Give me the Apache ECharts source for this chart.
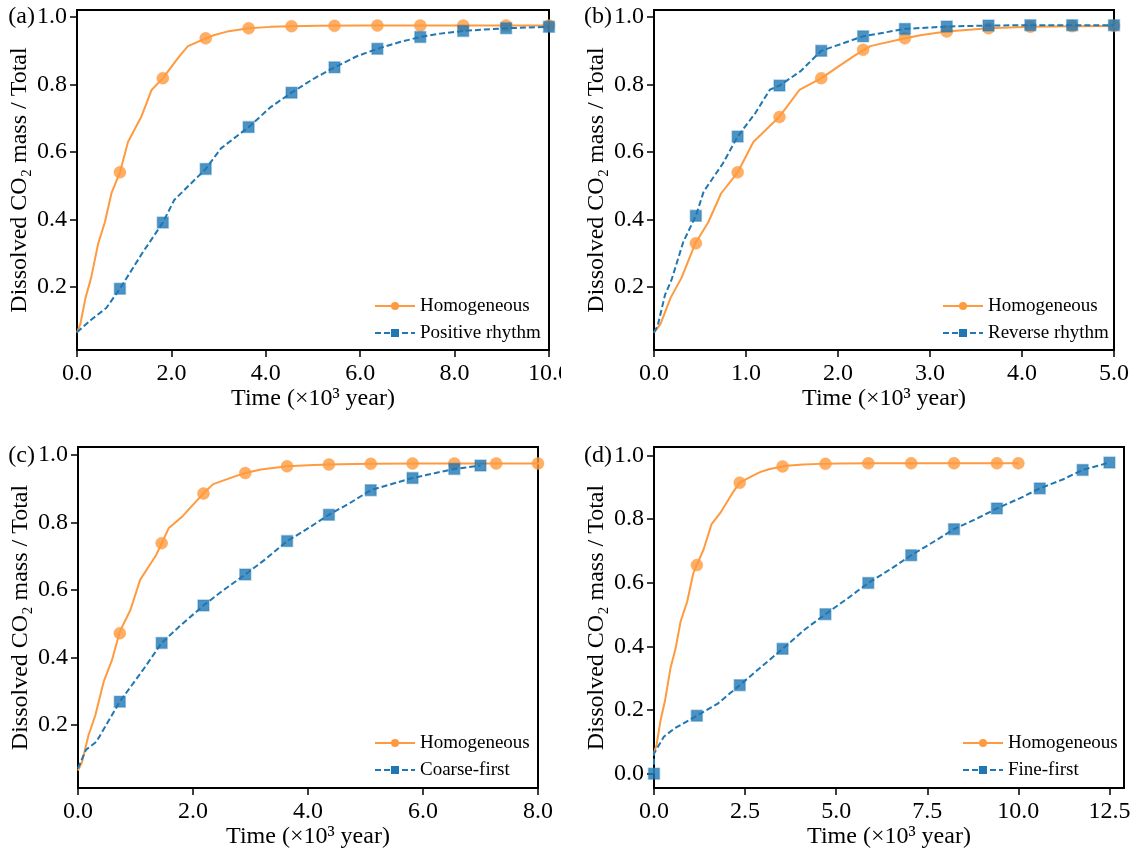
<!DOCTYPE html>
<html>
<head>
<meta charset="utf-8">
<script src="https://cdn.jsdelivr.net/npm/echarts@6/dist/echarts.min.js"></script>
<style>
  html, body { margin: 0; padding: 0; background: #fff; }
  #chart { width: 1135px; height: 850px; }
</style>
</head>
<body>
<div id="chart"></div>
<script>
// ---- data: dissolved CO2 fraction vs time (x10^3 year) ----

// Homogeneous case, shared by all four panels
const homCurve = [[0,0.065],[0.07,0.09],[0.18,0.168],[0.30,0.228],[0.45,0.33],[0.59,0.392],[0.73,0.478],[0.91,0.54],
  [1.08,0.63],[1.25,0.675],[1.36,0.704],[1.46,0.74],[1.58,0.784],[1.82,0.819],[2.05,0.862],[2.18,0.886],[2.35,0.914],
  [2.73,0.937],[2.91,0.947],[3.18,0.957],[3.64,0.967],[4.10,0.971],[4.55,0.973],[5.10,0.974],[6.00,0.975],[8.00,0.975],[10.00,0.975]];
const homMarksA = [[0.909,0.54],[1.818,0.819],[2.727,0.937],[3.636,0.967],[4.545,0.973],[5.455,0.974],[6.364,0.975],[7.273,0.975],[8.182,0.975],[9.091,0.975],[10,0.975]];
const homMarksB = [[0.455,0.33],[0.909,0.54],[1.364,0.704],[1.818,0.819],[2.273,0.903],[2.727,0.937],[3.182,0.957],[3.636,0.967],[4.091,0.971],[4.545,0.973],[5.0,0.974]];
const homMarksC = [[0.727,0.472],[1.455,0.739],[2.182,0.886],[2.909,0.947],[3.636,0.967],[4.364,0.972],[5.091,0.974],[5.818,0.975],[6.545,0.975],[7.273,0.975],[8.0,0.975]];
const homMarksD = [[1.176,0.655],[2.353,0.914],[3.529,0.965],[4.706,0.973],[5.882,0.975],[7.059,0.975],[8.235,0.975],[9.412,0.975],[10.0,0.975]];

// (a) Positive rhythm
const posCurve = [[0,0.066],[0.3,0.103],[0.62,0.138],[0.909,0.195],[1.38,0.30],[1.818,0.391],[2.06,0.458],[2.727,0.55],[3.05,0.611],
  [3.636,0.674],[4.11,0.734],[4.545,0.776],[5.02,0.818],[5.455,0.851],[5.93,0.884],[6.364,0.906],[6.84,0.926],[7.273,0.941],
  [7.7,0.951],[8.182,0.959],[9.091,0.967],[10,0.971]];
const posMarks = [[0.909,0.195],[1.818,0.391],[2.727,0.55],[3.636,0.674],[4.545,0.776],[5.455,0.851],[6.364,0.906],[7.273,0.941],[8.182,0.959],[9.091,0.967],[10,0.971]];

// (b) Reverse rhythm
const revCurve = [[0,0.065],[0.04,0.085],[0.12,0.177],[0.19,0.221],[0.32,0.335],[0.455,0.411],[0.54,0.483],[0.75,0.567],[0.909,0.646],
  [1.10,0.715],[1.26,0.785],[1.364,0.797],[1.59,0.839],[1.818,0.9],[2.273,0.943],[2.727,0.965],[3.182,0.972],[3.636,0.975],
  [4.091,0.976],[4.545,0.976],[5.0,0.976]];
const revMarks = [[0.455,0.411],[0.909,0.646],[1.364,0.797],[1.818,0.9],[2.273,0.943],[2.727,0.965],[3.182,0.972],[3.636,0.975],[4.091,0.976],[4.545,0.976],[5.0,0.976]];

// (c) Coarse-first
const coarseCurve = [[0,0.071],[0.137,0.126],[0.32,0.15],[0.727,0.269],[1.13,0.363],[1.455,0.443],[1.75,0.49],[2.182,0.554],[2.5,0.596],
  [2.909,0.646],[3.25,0.69],[3.636,0.745],[3.92,0.774],[4.364,0.823],[4.73,0.858],[5.091,0.896],[5.47,0.915],[5.818,0.932],
  [6.22,0.947],[6.545,0.959],[7.0,0.969]];
const coarseMarks = [[0.727,0.269],[1.455,0.443],[2.182,0.554],[2.909,0.646],[3.636,0.745],[4.364,0.823],[5.091,0.896],[5.818,0.932],[6.545,0.959],[7.0,0.969]];

// (d) Fine-first
const fineCurve = [[0,0],[0,0.063],[0.27,0.116],[0.56,0.142],[1.176,0.182],[1.75,0.22],[2.353,0.278],[2.95,0.336],[3.529,0.392],
  [4.13,0.452],[4.706,0.501],[5.32,0.551],[5.882,0.599],[6.5,0.643],[7.059,0.686],[7.7,0.73],[8.235,0.768],[8.89,0.803],
  [9.412,0.833],[10.08,0.867],[10.588,0.896],[11.22,0.924],[11.765,0.954],[12.5,0.977]];
const fineMarks = [[0,0],[1.176,0.182],[2.353,0.278],[3.529,0.392],[4.706,0.501],[5.882,0.599],[7.059,0.686],[8.235,0.768],[9.412,0.833],[10.588,0.896],[11.765,0.954],[12.5,0.977]];

// tick labels
const xTicksA = [0, 2, 4, 6, 8, 10];
const xTicksB = [0, 1, 2, 3, 4, 5];
const xTicksC = [0, 2, 4, 6, 8];
const xTicksD = [0, 2.5, 5, 7.5, 10, 12.5];
const yTicks = [0.2, 0.4, 0.6, 0.8, 1.0];
const yTicksD = [0.0, 0.2, 0.4, 0.6, 0.8, 1.0];

const panelTags = ['(a)', '(b)', '(c)', '(d)'];
const caseNames = ['Positive rhythm', 'Reverse rhythm', 'Coarse-first', 'Fine-first'];

// ---- layout ----
const FONT = "'Liberation Serif', 'Times New Roman', 'DejaVu Serif', serif";
const ORANGE = '#ff9a3e';
const BLUE = '#1f77b4';

const panels = [
  { grid: { left: 77,  top: 10,  width: 472, height: 340 }, xMax: 10,   yMin: 0.0135, yMax: 1.021, xTicks: xTicksA, yTicks: yTicks,
    hom: homMarksA, curve: posCurve, marks: posMarks, legend: { left: 369, top: 291 }, tag: { x: 35, y: 17 } },
  { grid: { left: 654, top: 10,  width: 460, height: 340 }, xMax: 5,    yMin: 0.0135, yMax: 1.021, xTicks: xTicksB, yTicks: yTicks,
    hom: homMarksB, curve: revCurve, marks: revMarks, legend: { left: 937, top: 291 }, tag: { x: 612, y: 17 } },
  { grid: { left: 78,  top: 447, width: 460, height: 341 }, xMax: 8,    yMin: 0.013,  yMax: 1.024, xTicks: xTicksC, yTicks: yTicks,
    hom: homMarksC, curve: coarseCurve, marks: coarseMarks, legend: { left: 369, top: 728 }, tag: { x: 35, y: 456 } },
  { grid: { left: 654, top: 447, width: 470, height: 341 }, xMax: 12.9, yMin: -0.045, yMax: 1.026, xTicks: xTicksD, yTicks: yTicksD,
    hom: homMarksD, curve: fineCurve, marks: fineMarks, legend: { left: 957, top: 728 }, tag: { x: 612, y: 456 } }
];

const grids = [], xAxes = [], yAxes = [], series = [], legends = [], graphics = [];

panels.forEach((p, i) => {
  grids.push(Object.assign({ show: true, borderColor: '#000', borderWidth: 2, backgroundColor: 'transparent' }, p.grid));

  xAxes.push({
    type: 'value', gridIndex: i, min: 0, max: p.xMax,
    name: 'Time (×10³ year)', nameLocation: 'middle', nameGap: 36,
    nameTextStyle: { fontFamily: FONT, fontSize: 24, color: '#000' },
    axisLine: { show: true, onZero: false, lineStyle: { color: '#000', width: 2 } },
    axisTick: { show: true, length: 7, customValues: p.xTicks, lineStyle: { color: '#000', width: 1.5 } },
    axisLabel: { customValues: p.xTicks, formatter: v => v.toFixed(1), margin: 12,
                 fontFamily: FONT, fontSize: 24, color: '#000' },
    splitLine: { show: false }
  });

  yAxes.push({
    type: 'value', gridIndex: i, min: p.yMin, max: p.yMax,
    name: 'Dissolved CO₂ mass / Total', nameLocation: 'middle', nameGap: 45,
    nameTextStyle: { fontFamily: FONT, fontSize: 24, color: '#000' },
    axisLine: { show: true, onZero: false, lineStyle: { color: '#000', width: 2 } },
    axisTick: { show: true, length: 7, customValues: p.yTicks, lineStyle: { color: '#000', width: 1.5 } },
    axisLabel: { customValues: p.yTicks, formatter: v => v.toFixed(1), margin: 10,
                 fontFamily: FONT, fontSize: 24, color: '#000' },
    splitLine: { show: false }
  });

  series.push({
    type: 'line', name: 'Homogeneous', xAxisIndex: i, yAxisIndex: i, data: homCurve,
    symbol: 'circle', showSymbol: false, z: 2,
    lineStyle: { color: ORANGE, width: 2 }, itemStyle: { color: ORANGE }
  });
  series.push({
    type: 'scatter', xAxisIndex: i, yAxisIndex: i, data: p.hom, z: 2,
    symbol: 'circle', symbolSize: 12,
    itemStyle: { color: ORANGE, borderColor: 'rgba(255,154,62,0.5)', borderWidth: 1 }
  });
  series.push({
    type: 'line', name: caseNames[i], xAxisIndex: i, yAxisIndex: i, data: p.curve,
    symbol: 'rect', showSymbol: false, z: 3,
    lineStyle: { color: BLUE, width: 2, type: [6, 3] }, itemStyle: { color: BLUE }
  });
  series.push({
    type: 'scatter', xAxisIndex: i, yAxisIndex: i, data: p.marks, z: 3,
    symbol: 'rect', symbolSize: 11,
    itemStyle: { color: BLUE, borderColor: 'rgba(31,119,180,0.45)', borderWidth: 1.5 }
  });

  legends.push({
    orient: 'vertical', left: p.legend.left, top: p.legend.top,
    data: ['Homogeneous', caseNames[i]],
    selectedMode: false, itemWidth: 40, itemHeight: 10, itemGap: 7,
    textStyle: { fontFamily: FONT, fontSize: 19, lineHeight: 20, color: '#000' }
  });

  graphics.push({
    type: 'text', x: p.tag.x, y: p.tag.y, z: 50,
    style: { text: panelTags[i], font: '24px ' + FONT, fill: '#000', align: 'right', verticalAlign: 'middle' }
  });
});

// trims the last tick label of panel (a) at the panel boundary
graphics.push({ type: 'rect', z: 100, shape: { x: 561, y: 356, width: 40, height: 40 }, style: { fill: '#fff' } });

const chart = echarts.init(document.getElementById('chart'), null, { renderer: 'canvas' });
chart.setOption({
  backgroundColor: '#fff',
  animation: false,
  grid: grids,
  xAxis: xAxes,
  yAxis: yAxes,
  legend: legends,
  series: series,
  graphic: graphics
});
</script>
</body>
</html>
